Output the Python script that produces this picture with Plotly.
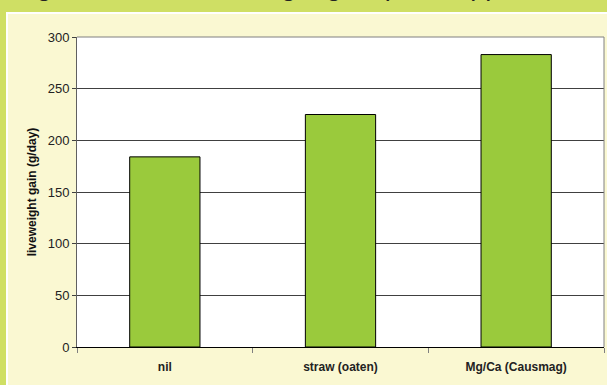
import plotly.graph_objects as go

categories = ["nil", "straw (oaten)", "Mg/Ca (Causmag)"]
gain = [184, 225, 283]
y_ticks = [0, 50, 100, 150, 200, 250, 300]
y_title = "liveweight gain (g/day)"
title_text = "Figure 3. Steer liveweight gain plus supplements"

W, H = 607, 385
L, R, T, B = 77, 3, 37, 38
pw, ph = W - L - R, H - T - B

def px(x):
    return (x - L) / pw

def py(y):
    return (H - B - y) / ph

FONT = "Arial, Liberation Sans, sans-serif"
GREEN = "#CFDF64"
CREAM = "#FAF8D2"

fig = go.Figure()
fig.add_trace(go.Bar(
    x=categories, y=gain, width=0.4,
    marker=dict(color="#9ACA3C", line=dict(color="#000000", width=1)),
    hoverinfo="skip",
))

shapes = [
    dict(type="rect", xref="paper", yref="paper", x0=px(0), x1=px(W), y0=py(12), y1=py(0),
         fillcolor=GREEN, line=dict(width=0), layer="below"),
    dict(type="rect", xref="paper", yref="paper", x0=px(0), x1=px(6), y0=py(H), y1=py(0),
         fillcolor=GREEN, line=dict(width=0), layer="below"),
    dict(type="rect", xref="paper", yref="paper", x0=px(6), x1=px(W), y0=py(14), y1=py(12),
         fillcolor="#FFFFFF", line=dict(width=0), layer="below"),
    dict(type="rect", xref="paper", yref="paper", x0=px(6), x1=px(8), y0=py(H), y1=py(12),
         fillcolor="#FFFFFF", line=dict(width=0), layer="below"),
    dict(type="line", xref="paper", yref="paper", x0=0, x1=1, y0=1, y1=1,
         line=dict(color="#808080", width=1)),
    dict(type="line", xref="paper", yref="paper", x0=1, x1=1, y0=0, y1=1,
         line=dict(color="#808080", width=1)),
]

fig.update_layout(
    width=W, height=H,
    margin=dict(l=L, r=R, t=T, b=B),
    paper_bgcolor=CREAM,
    plot_bgcolor="#FFFFFF",
    showlegend=False,
    shapes=shapes,
    font=dict(family=FONT, color="#222222"),
    annotations=[dict(
        text=title_text, xref="paper", yref="paper", x=px(12), y=py(-14),
        xanchor="left", yanchor="middle", showarrow=False,
        font=dict(family=FONT, size=27, color="#222222"),
    )],
    xaxis=dict(
        type="category", tickson="boundaries", ticks="outside", ticklen=5,
        tickcolor="#808080", showline=True, linecolor="#000000", linewidth=1,
        showgrid=False, tickfont=dict(family=FONT, size=12, color="#222222", weight="bold"),
        ticklabelstandoff=9,
    ),
    yaxis=dict(
        range=[0, 300], tickvals=y_ticks, ticks="outside", ticklen=4,
        tickcolor="#404040", showline=True, linecolor="#606060", linewidth=1,
        showgrid=True, gridcolor="#404040", gridwidth=1, zeroline=False,
        tickfont=dict(family=FONT, size=13, color="#222222"),
        title=dict(text=y_title, standoff=8,
                   font=dict(family=FONT, size=12, color="#111111", weight="bold")),
    ),
)

fig.write_html("out.html")
